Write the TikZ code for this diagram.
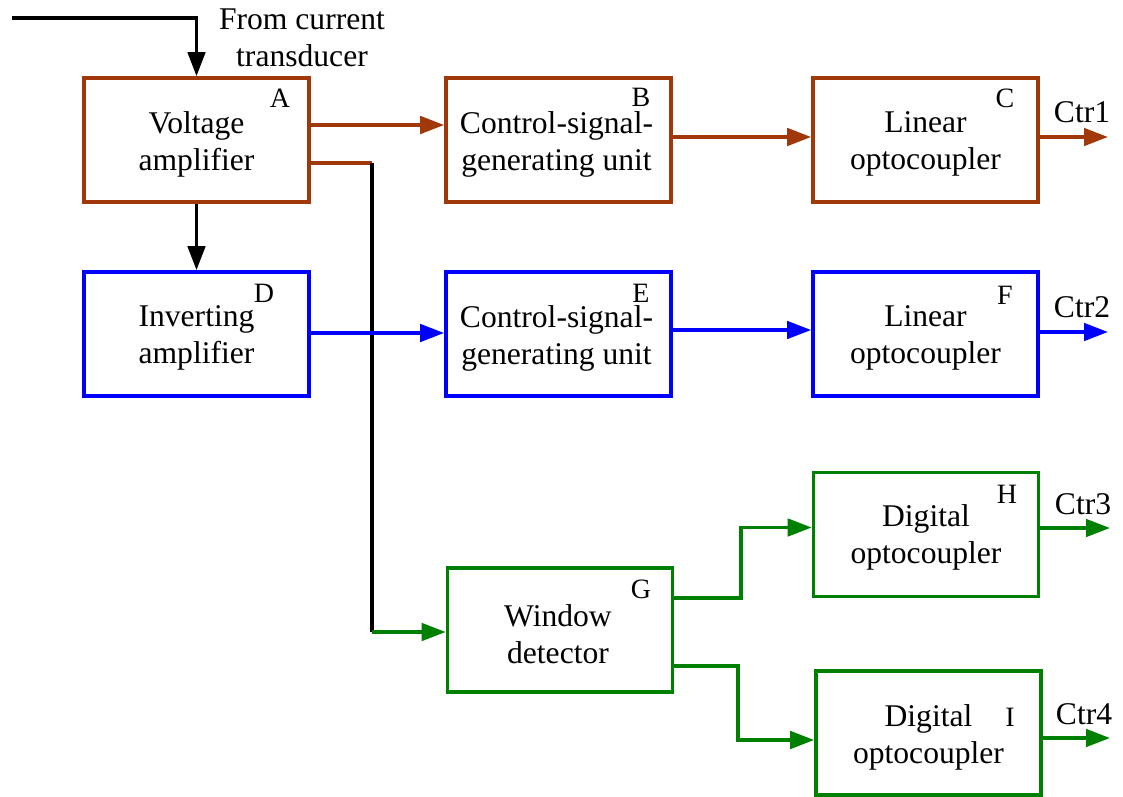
\documentclass[tikz,border=0pt]{standalone}
\usepackage{fontspec}
\setmainfont{Liberation Serif}
\usetikzlibrary{arrows.meta,calc}
\definecolor{brn}{RGB}{160,56,10}
\definecolor{blu}{RGB}{0,0,255}
\definecolor{grn}{RGB}{0,128,0}
\begin{document}
\begin{tikzpicture}[x=0.75pt,y=-0.75pt,
  every node/.style={font=\fontsize{23.7}{27.8}\selectfont},
  blk/.style={draw,line width=2.7pt,minimum width=168.75pt,minimum height=93pt,inner sep=0pt},
  txt/.style={align=center,inner sep=0pt},
  lett/.style={font=\fontsize{21}{24}\selectfont,inner sep=0pt},
  wire/.style={line width=2.7pt},
  arr/.style={wire,-{Triangle[length=18pt,width=13pt]}},
  outlab/.style={inner sep=0pt}]
\useasboundingbox (0,0) rectangle (1123,796);
% boxes
\node[blk,draw=brn] (A) at (196.5,140) {};
\node[blk,draw=brn] (B) at (558.5,140) {};
\node[blk,draw=brn] (C) at (925.5,140) {};
\node[blk,draw=blu] (D) at (196.5,334) {};
\node[blk,draw=blu] (E) at (558.5,334) {};
\node[blk,draw=blu] (F) at (925.5,334) {};
\node[blk,draw=grn] (G) at (560,630) {};
\node[blk,draw=grn] (H) at (926,534.5) {};
\node[blk,draw=grn] (I) at (928.5,733) {};
% texts
\node[txt] (At) at ($(A)+(0,4)$) {Voltage\\amplifier};
\node[txt] (Bt) at ($(B)+(-2,4)$) {Control-signal-\\generating unit};
\node[txt] (Ct) at ($(C)+(0,4)$) {Linear\\optocoupler};
\node[txt] (Dt) at ($(D)+(0,4)$) {Inverting\\amplifier};
\node[txt] (Et) at ($(E)+(-2,4)$) {Control-signal-\\generating unit};
\node[txt] (Ft) at ($(F)+(0,4)$) {Linear\\optocoupler};
\node[txt] (Gt) at ($(G)+(-2,4)$) {Window\\detector};
\node[txt] (Ht) at ($(H)+(0,3)$) {Digital\\optocoupler};
\node[txt] (It) at ($(I)+(0,4)$) {Digital\\optocoupler};
% letters
\node[lett] (lA) at (280,98) {A};
\node[lett] (lB) at (641,97) {B};
\node[lett] (lC) at (1005,98) {C};
\node[lett] (lD) at (264,293) {D};
\node[lett] (lE) at (641,293) {E};
\node[lett] (lF) at (1005,295) {F};
\node[lett] (lG) at (641,589) {G};
\node[lett] (lH) at (1007,494) {H};
\node[lett] (lI) at (1010,717) {I};
% input
\node[txt] (src) at (302,38) {From current\\transducer};
\coordinate (in0) at (12,18);
\draw[arr] (in0) -| (A.north);
% A outputs
\draw[arr,brn] ($(A.east)+(0,-15)$) -- ($(B.west)+(0,-15)$);
\coordinate (j1) at (372,163);
\coordinate (j2) at (372,632);
\draw[wire,brn] ($(A.east)+(0,23)$) -- (j1);
\draw[wire] (j1) -- (j2);
\draw[arr,grn] (j2) -- ($(G.west)+(0,2)$);
\draw[arr] (A.south) -- (D.north);
\draw[arr,brn] ($(B.east)+(0,-3)$) -- ($(C.west)+(0,-3)$);
\coordinate (o1) at (1108,137);
\draw[arr,brn] ($(C.east)+(0,-3)$) -- (o1);
\node[outlab] (t1) at (1082,112) {Ctr1};
% row 2
\draw[arr,blu] ($(D.east)+(0,-1)$) -- ($(E.west)+(0,-1)$);
\draw[arr,blu] ($(E.east)+(0,-4)$) -- ($(F.west)+(0,-4)$);
\coordinate (o2) at (1108,332);
\draw[arr,blu] ($(F.east)+(0,-2)$) -- (o2);
\node[outlab] (t2) at (1082,307) {Ctr2};
% G outputs
\draw[arr,grn] ($(G.east)+(0,-32)$) -| (741,556) |- ($(H.west)+(0,-7)$);
\draw[arr,grn] ($(G.east)+(0,36)$) -| (738,700) |- ($(I.west)+(0,7)$);
\coordinate (o3) at (1110,528);
\draw[arr,grn] ($(H.east)+(0,-6.5)$) -- (o3);
\node[outlab] (t3) at (1083,504) {Ctr3};
\coordinate (o4) at (1110,738);
\draw[arr,grn] ($(I.east)+(0,5)$) -- (o4);
\node[outlab] (t4) at (1084,714) {Ctr4};
\end{tikzpicture}
\end{document}
